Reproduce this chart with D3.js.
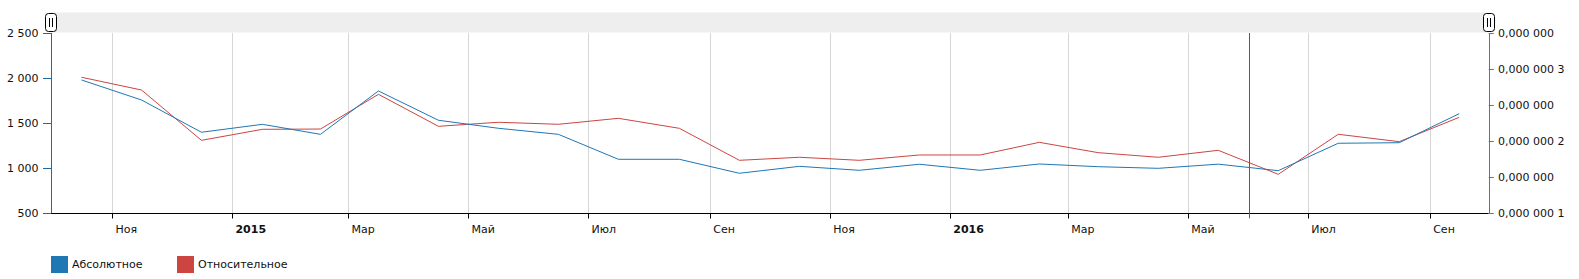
<!DOCTYPE html>
<html>
<head>
<meta charset="utf-8">
<script src="https://cdn.jsdelivr.net/npm/d3@7/dist/d3.min.js"></script>
<style>
html,body{margin:0;padding:0;background:#fff;}
svg{display:block;font-family:"DejaVu Sans",Verdana,sans-serif;font-size:11px;}
</style>
</head>
<body>
<svg id="chart" width="1579" height="279"></svg>
<script>
// ---- data ----
const months = ["2014-10","2014-11","2014-12","2015-01","2015-02","2015-03","2015-04","2015-05",
  "2015-06","2015-07","2015-08","2015-09","2015-10","2015-11","2015-12","2016-01","2016-02",
  "2016-03","2016-04","2016-05","2016-06","2016-07","2016-08","2016-09"];
const absolute = [1979,1757,1399,1487,1376,1857,1532,1443,1376,1099,1099,944,1021,977,1044,977,1047,1017,999,1045,973,1277,1283,1605];
const relative = [2.884e-7,2.707e-7,2.007e-7,2.160e-7,2.164e-7,2.647e-7,2.202e-7,2.258e-7,2.230e-7,2.313e-7,2.174e-7,1.729e-7,
  1.771e-7,1.729e-7,1.803e-7,1.803e-7,1.979e-7,1.835e-7,1.771e-7,1.868e-7,1.534e-7,2.091e-7,1.988e-7,2.327e-7];
const xTickDates = ["2014-11","2015-01","2015-03","2015-05","2015-07","2015-09","2015-11","2016-01","2016-03","2016-05","2016-07","2016-09"];
const xTickLabels = ["Ноя","2015","Мар","Май","Июл","Сен","Ноя","2016","Мар","Май","Июл","Сен"];
const xTickBold = [false,true,false,false,false,false,false,true,false,false,false,false];
const leftTicks = [500,1000,1500,2000,2500];
const leftTickLabels = ["500","1 000","1 500","2 000","2 500"];
const rightTicks = [1e-7,1.5e-7,2e-7,2.5e-7,3e-7,3.5e-7];
const rightTickLabels = ["0,000 000 1","0,000 000","0,000 000 2","0,000 000","0,000 000 3","0,000 000"];
const seriesNames = ["Абсолютное","Относительное"];
const cursorDate = "2016-06-01";
const xDomain = ["2014-10-01","2016-10-01"];

// ---- layout ----
const colors = ["#1f77b4","#cc4541"];
const L = 51, R = 1488.7, T = 33, B = 213.3;
const parseM = d3.timeParse("%Y-%m");
const parseD = d3.timeParse("%Y-%m-%d");
const midMonth = m => { const s = parseM(m), e = d3.timeMonth.offset(s,1); return new Date((+s + +e)/2); };

const x = d3.scaleTime().domain(xDomain.map(parseD)).range([L,R]);
const yL = d3.scaleLinear().domain([500,2500]).range([B,T]);
const yR = d3.scaleLinear().domain([1e-7,3.5e-7]).range([B-0.6,T]);

const svg = d3.select("#chart");

// scrollbar
svg.append("rect").attr("x",L).attr("y",12.5).attr("width",R-L).attr("height",20)
  .attr("fill","#eeeeee");

// grid
svg.append("g").selectAll("line").data(xTickDates).join("line")
  .attr("x1",d=>Math.round(x(parseM(d)))+0.5).attr("x2",d=>Math.round(x(parseM(d)))+0.5)
  .attr("y1",T).attr("y2",B).attr("stroke","#d6d6d6").attr("stroke-width",1);

// bottom axis
const gx = svg.append("g").attr("transform",`translate(0,${Math.round(B)+0.5})`);
gx.append("line").attr("x1",L).attr("x2",R).attr("stroke","#000");
gx.selectAll("line.t").data(xTickDates).join("line").attr("class","t")
  .attr("x1",d=>Math.round(x(parseM(d)))+0.5).attr("x2",d=>Math.round(x(parseM(d)))+0.5)
  .attr("y1",0).attr("y2",5).attr("stroke","#000");
gx.selectAll("text").data(xTickDates).join("text")
  .attr("x",d=>x(parseM(d))+3.5).attr("y",19)
  .attr("fill","#111")
  .attr("font-weight",(d,i)=>xTickBold[i]?"bold":"normal")
  .text((d,i)=>xTickLabels[i]);

// cursor line
svg.append("line")
  .attr("x1",Math.round(x(parseD(cursorDate)))+0.5).attr("x2",Math.round(x(parseD(cursorDate)))+0.5)
  .attr("y1",T).attr("y2",B+5).attr("stroke","#1f6aa5").attr("stroke-width",1);

// left axis
const gl = svg.append("g");
gl.append("line").attr("x1",L+0.5).attr("x2",L+0.5).attr("y1",T).attr("y2",B).attr("stroke","#1f6aa5");
gl.selectAll("line.t").data(leftTicks).join("line").attr("class","t")
  .attr("x1",L-8).attr("x2",L).attr("y1",d=>Math.round(yL(d))+0.5).attr("y2",d=>Math.round(yL(d))+0.5)
  .attr("stroke","#1f6aa5");
gl.selectAll("text").data(leftTicks).join("text")
  .attr("x",38.5).attr("y",d=>yL(d)).attr("dy","0.35em").attr("text-anchor","end")
  .attr("fill","#111").text((d,i)=>leftTickLabels[i]);

// right axis
const gr = svg.append("g");
gr.append("line").attr("x1",Math.round(R)+0.5).attr("x2",Math.round(R)+0.5).attr("y1",T).attr("y2",B).attr("stroke","#c0504d");
gr.selectAll("line.t").data(rightTicks).join("line").attr("class","t")
  .attr("x1",R).attr("x2",R+5).attr("y1",d=>Math.round(yR(d))+0.5).attr("y2",d=>Math.round(yR(d))+0.5)
  .attr("stroke","#c0504d");
gr.selectAll("text").data(rightTicks).join("text")
  .attr("x",1498).attr("y",d=>yR(d)).attr("dy","0.35em")
  .attr("fill","#111").text((d,i)=>rightTickLabels[i]);

// lines
const dates = months.map(midMonth);
const lineL = d3.line().x((d,i)=>x(dates[i])).y(d=>yL(d));
const lineR = d3.line().x((d,i)=>x(dates[i])).y(d=>yR(d));
svg.append("path").attr("d",lineR(relative)).attr("fill","none").attr("stroke",colors[1]).attr("stroke-width",1);
svg.append("path").attr("d",lineL(absolute)).attr("fill","none").attr("stroke",colors[0]).attr("stroke-width",1);

// scrollbar grips
[L,R].forEach(cx=>{
  const g = svg.append("g").attr("transform",`translate(${Math.round(cx)},13)`);
  g.append("rect").attr("x",-5.5).attr("y",0.5).attr("width",11).attr("height",18).attr("rx",3)
    .attr("fill","#fff").attr("stroke","#000");
  g.append("line").attr("x1",-1.5).attr("x2",-1.5).attr("y1",5).attr("y2",14).attr("stroke","#000");
  g.append("line").attr("x1",1.5).attr("x2",1.5).attr("y1",5).attr("y2",14).attr("stroke","#000");
});

// legend
const legX = [51,177];
const lg = svg.append("g");
seriesNames.forEach((n,i)=>{
  lg.append("rect").attr("x",legX[i]).attr("y",256).attr("width",17).attr("height",17).attr("fill",colors[i]);
  lg.append("text").attr("x",legX[i]+21).attr("y",264.5).attr("dy","0.35em").attr("fill","#111").text(n);
});
</script>
</body>
</html>
